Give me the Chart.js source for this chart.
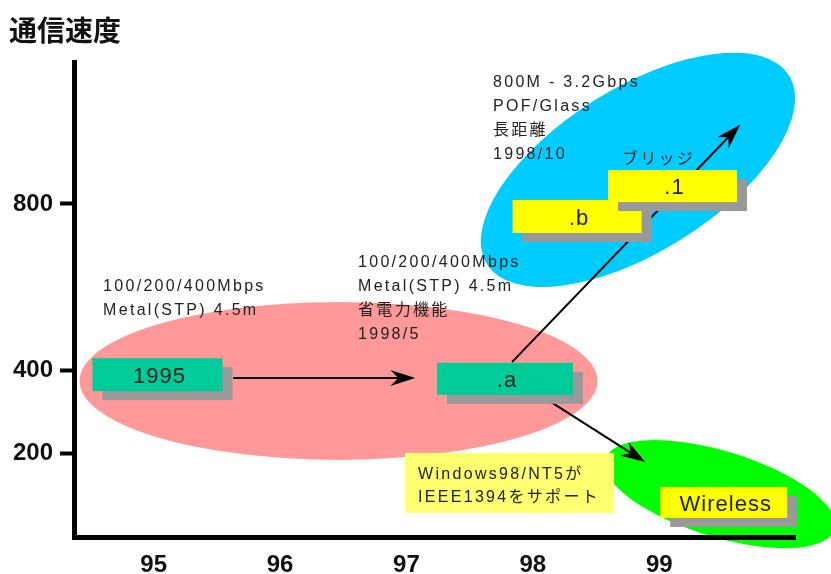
<!DOCTYPE html>
<html lang="ja">
<head>
<meta charset="utf-8">
<title>通信速度</title>
<script src="https://cdn.jsdelivr.net/npm/chart.js@4/dist/chart.umd.min.js"></script>
<style>
  html, body { margin: 0; padding: 0; background: #fff; }
  canvas { display: block; }
</style>
</head>
<body>
<canvas id="c" width="831" height="574"></canvas>
<script>
// Axis ticks
const years = [95, 96, 97, 98, 99];
const speedTicks = [200, 400, 800];

// Standard boxes (year, Mbps)
const nodeLabels = ['1995', '.a', '.b', '.1', 'Wireless'];
const nodeYear = [95.03, 97.78, 98.35, 99.105, 99.51];
const nodeSpeed = [390, 380, 770, 843, 83];

// Groups drawn as ellipses (centre year, centre Mbps)
const groupYear = [96.463, 98.832, 99.481];
const groupSpeed = [375, 882, 103];

// Arrows between standards
const arrowStartYear = [95.63, 97.835, 98.12];
const arrowStartSpeed = [382, 420, 329];
const arrowEndYear = [97.07, 99.64, 98.89];
const arrowEndSpeed = [382, 990, 180];

// Notes
const noteYear = [94.60, 96.617, 97.685];
const noteSpeed = [601, 658, 1091];
const noteLines = [
  ['100/200/400Mbps', 'Metal(STP) 4.5m'],
  ['100/200/400Mbps', 'Metal(STP) 4.5m', '省電力機能', '1998/5'],
  ['800M - 3.2Gbps', 'POF/Glass', '長距離', '1998/10']
];
const bridgeLabel = 'ブリッジ';
const bridgeYear = 98.705;
const bridgeSpeed = 906;
const calloutLines = ['Windows98/NT5が', 'IEEE1394をサポート'];
const calloutYear = 96.989;
const calloutSpeed = 202;

// ---- styles ----
const TEAL = '#00cc99', YELLOW = '#ffff00', SHADOW = '#999999';
const nodeStyle = [
  { w: 130, h: 33, fill: TEAL },
  { w: 136, h: 32, fill: TEAL },
  { w: 129, h: 33, fill: YELLOW },
  { w: 129, h: 32, fill: YELLOW },
  { w: 127, h: 31, fill: YELLOW }
];
const groupStyle = [
  { rx: 259, ry: 79, rot: 0, fill: '#ff9999' },
  { rx: 178, ry: 82, rot: -32, fill: '#00ccff' },
  { rx: 120, ry: 43, rot: 17, fill: '#00ff00' }
];
const TEXT = '#222222';
const SMALL_FONT = '16px "Liberation Sans", "Noto Sans CJK JP", sans-serif';
const BOX_FONT = '22px "Liberation Sans", "Noto Sans CJK JP", sans-serif';

function px(chart, yr, sp) {
  return [chart.scales.x.getPixelForValue(yr), chart.scales.y.getPixelForValue(sp)];
}

function arrow(ctx, x1, y1, x2, y2) {
  const a = Math.atan2(y2 - y1, x2 - x1);
  ctx.save();
  ctx.strokeStyle = '#000';
  ctx.lineWidth = 2;
  ctx.beginPath();
  ctx.moveTo(x1, y1);
  ctx.lineTo(x2 - 14 * Math.cos(a), y2 - 14 * Math.sin(a));
  ctx.stroke();
  ctx.translate(x2, y2);
  ctx.rotate(a);
  ctx.fillStyle = '#000';
  ctx.beginPath();
  ctx.moveTo(0, 0);
  ctx.lineTo(-25, -8);
  ctx.lineTo(-17, 0);
  ctx.lineTo(-25, 8);
  ctx.closePath();
  ctx.fill();
  ctx.restore();
}

function lines(ctx, x, y, arr, step) {
  ctx.save();
  ctx.font = SMALL_FONT;
  ctx.fillStyle = TEXT;
  ctx.textAlign = 'left';
  ctx.textBaseline = 'middle';
  ctx.letterSpacing = '2.3px';
  arr.forEach((t, i) => ctx.fillText(t, x, y + i * step));
  ctx.restore();
}

const diagram = {
  id: 'diagram',
  beforeDraw(chart) {
    const ctx = chart.ctx;
    ctx.save();
    // heading
    ctx.font = 'bold 28px "Noto Sans CJK JP", sans-serif';
    ctx.fillStyle = '#111';
    ctx.textAlign = 'left';
    ctx.textBaseline = 'middle';
    ctx.fillText('通信速度', 9, 30);
    // group ellipses
    groupYear.forEach((yr, i) => {
      const [cx, cy] = px(chart, yr, groupSpeed[i]);
      const s = groupStyle[i];
      ctx.fillStyle = s.fill;
      ctx.beginPath();
      ctx.ellipse(cx, cy, s.rx, s.ry, s.rot * Math.PI / 180, 0, Math.PI * 2);
      ctx.fill();
    });
    ctx.restore();
  },
  afterDatasetsDraw(chart) {
    const ctx = chart.ctx;
    // arrows (behind the boxes)
    arrowStartYear.forEach((yr, i) => {
      const [x1, y1] = px(chart, yr, arrowStartSpeed[i]);
      const [x2, y2] = px(chart, arrowEndYear[i], arrowEndSpeed[i]);
      arrow(ctx, x1, y1, x2, y2);
    });
    // standard boxes with drop shadow
    const meta = chart.getDatasetMeta(0);
    meta.data.forEach((pt, i) => {
      const s = nodeStyle[i];
      const x = pt.x - s.w / 2, y = pt.y - s.h / 2;
      ctx.fillStyle = SHADOW;
      ctx.fillRect(x + 10, y + 9, s.w, s.h);
      ctx.fillStyle = s.fill;
      ctx.fillRect(x, y, s.w, s.h);
      ctx.save();
      ctx.font = BOX_FONT;
      ctx.fillStyle = TEXT;
      ctx.textAlign = 'center';
      ctx.textBaseline = 'middle';
      ctx.letterSpacing = '1px';
      ctx.fillText(nodeLabels[i], pt.x + 2, pt.y + 2);
      ctx.restore();
    });
    // notes
    noteYear.forEach((yr, i) => {
      const [x, y] = px(chart, yr, noteSpeed[i]);
      lines(ctx, x, y, noteLines[i], 24);
    });
    const [bx, by] = px(chart, bridgeYear, bridgeSpeed);
    lines(ctx, bx, by, [bridgeLabel], 24);
    // callout
    const [cx, cy] = px(chart, calloutYear, calloutSpeed);
    ctx.fillStyle = '#ffff70';
    ctx.fillRect(cx, cy, 209, 60);
    lines(ctx, cx + 13, cy + 22, calloutLines, 23);
  }
};

new Chart(document.getElementById('c'), {
  type: 'scatter',
  data: {
    datasets: [{
      data: nodeYear.map((x, i) => ({ x, y: nodeSpeed[i] })),
      pointRadius: 0,
      pointHoverRadius: 0
    }]
  },
  options: {
    responsive: false,
    animation: false,
    devicePixelRatio: 1,
    layout: { padding: { top: 62, right: 36, left: 0, bottom: 0 } },
    plugins: { legend: { display: false }, tooltip: { enabled: false } },
    events: [],
    scales: {
      x: {
        type: 'linear',
        min: 94.37,
        max: 100.074,
        afterBuildTicks: s => { s.ticks = years.map(v => ({ value: v })); },
        afterFit: s => { s.height = 37; },
        grid: { display: false },
        border: { display: true, color: '#000', width: 5 },
        ticks: {
          padding: 6,
          color: '#111',
          font: { family: '"Liberation Sans", sans-serif', size: 24, weight: 'bold' },
          callback: v => String(v)
        }
      },
      y: {
        type: 'linear',
        min: 0,
        max: 1141,
        afterBuildTicks: s => { s.ticks = speedTicks.map(v => ({ value: v })); },
        afterFit: s => { s.width = 74; },
        grid: { display: true, drawOnChartArea: false, drawTicks: true, tickLength: 14, tickWidth: 4, tickColor: '#000' },
        border: { display: true, color: '#000', width: 5 },
        ticks: {
          padding: 7,
          color: '#111',
          font: { family: '"Liberation Sans", sans-serif', size: 24, weight: 'bold' },
          callback: v => String(v)
        }
      }
    }
  },
  plugins: [diagram]
});
</script>
</body>
</html>
